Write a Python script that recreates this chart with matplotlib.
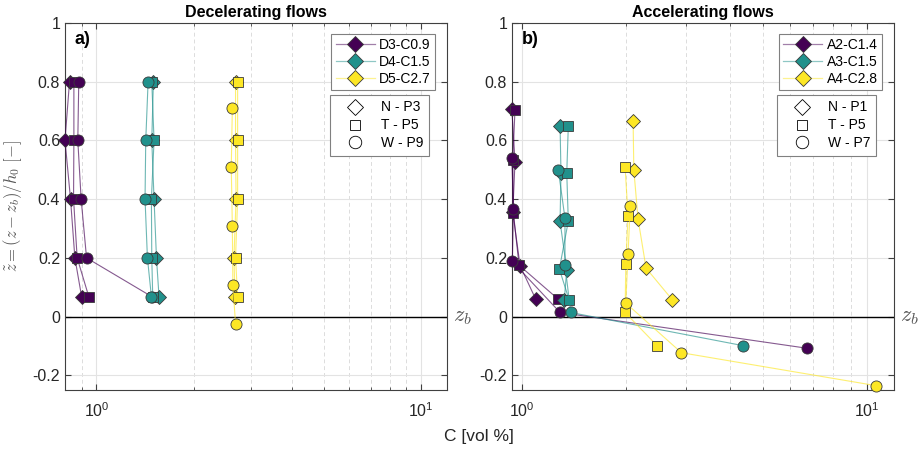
import matplotlib
matplotlib.use('Agg')
import matplotlib.pyplot as plt
from matplotlib.lines import Line2D
from matplotlib.colors import to_rgba

plt.rcParams['font.family'] = ['Liberation Sans', 'DejaVu Sans']
plt.rcParams['mathtext.fontset'] = 'cm'

# colours (viridis ends + middle)
COLORS = ['#440154', '#21918c', '#fde725']

# ---------------- decelerating flows (panel a) ----------------
DEC_NAMES = ['D3-C0.9', 'D4-C1.5', 'D5-C2.7']
DEC_PROFILES = ['N - P3', 'T - P5', 'W - P9']

D3_N_C = [0.826, 0.800, 0.832, 0.858, 0.900]
D3_N_Z = [0.80, 0.60, 0.40, 0.20, 0.068]
D3_T_C = [0.852, 0.852, 0.850, 0.872, 0.947]
D3_T_Z = [0.80, 0.60, 0.40, 0.20, 0.068]
D3_W_C = [0.882, 0.876, 0.897, 0.932, 1.48]
D3_W_Z = [0.80, 0.60, 0.40, 0.20, 0.068]

D4_N_C = [1.497, 1.480, 1.504, 1.530, 1.558]
D4_N_Z = [0.80, 0.60, 0.40, 0.20, 0.068]
D4_T_C = [1.480, 1.504, 1.476, 1.480, 1.490]
D4_T_Z = [0.80, 0.60, 0.40, 0.20, 0.068]
D4_W_C = [1.442, 1.418, 1.411, 1.435, 1.476]
D4_W_Z = [0.80, 0.60, 0.40, 0.20, 0.068]

D5_N_C = [2.68, 2.68, 2.69, 2.65, 2.67]
D5_N_Z = [0.80, 0.60, 0.40, 0.20, 0.068]
D5_T_C = [2.72, 2.72, 2.72, 2.68, 2.72]
D5_T_Z = [0.80, 0.60, 0.40, 0.20, 0.068]
D5_W_C = [2.62, 2.60, 2.62, 2.63, 2.68]
D5_W_Z = [0.711, 0.509, 0.307, 0.108, -0.025]

# ---------------- accelerating flows (panel b) ----------------
ACC_NAMES = ['A2-C1.4', 'A3-C1.5', 'A4-C2.8']
ACC_PROFILES = ['N - P1', 'T - P5', 'W - P7']

A2_N_C = [0.934, 0.954, 0.940, 0.987, 1.096]
A2_N_Z = [0.707, 0.528, 0.355, 0.173, 0.059]
A2_T_C = [0.954, 0.940, 0.944, 0.980, 1.274]
A2_T_Z = [0.705, 0.535, 0.352, 0.175, 0.059]
A2_W_C = [0.934, 0.944, 0.937, 1.289, 6.73]
A2_W_Z = [0.540, 0.366, 0.188, 0.014, -0.108]

A3_N_C = [1.289, 1.297, 1.289, 1.348, 1.326]
A3_N_Z = [0.650, 0.489, 0.324, 0.159, 0.057]
A3_T_C = [1.362, 1.348, 1.362, 1.283, 1.371]
A3_T_Z = [0.648, 0.489, 0.325, 0.162, 0.055]
A3_W_C = [1.274, 1.332, 1.332, 1.384, 4.38]
A3_W_Z = [0.500, 0.335, 0.176, 0.014, -0.099]

A4_N_C = [2.10, 2.11, 2.17, 2.29, 2.73]
A4_N_Z = [0.665, 0.500, 0.333, 0.165, 0.057]
A4_T_C = [1.99, 2.03, 2.00, 1.99, 2.47]
A4_T_Z = [0.511, 0.344, 0.179, 0.014, -0.100]
A4_W_C = [2.06, 2.03, 2.00, 2.90, 10.62]
A4_W_Z = [0.377, 0.213, 0.046, -0.123, -0.235]

DEC_DATA = [
    [(D3_N_C, D3_N_Z), (D3_T_C, D3_T_Z), (D3_W_C, D3_W_Z)],
    [(D4_N_C, D4_N_Z), (D4_T_C, D4_T_Z), (D4_W_C, D4_W_Z)],
    [(D5_N_C, D5_N_Z), (D5_T_C, D5_T_Z), (D5_W_C, D5_W_Z)],
]
ACC_DATA = [
    [(A2_N_C, A2_N_Z), (A2_T_C, A2_T_Z), (A2_W_C, A2_W_Z)],
    [(A3_N_C, A3_N_Z), (A3_T_C, A3_T_Z), (A3_W_C, A3_W_Z)],
    [(A4_N_C, A4_N_Z), (A4_T_C, A4_T_Z), (A4_W_C, A4_W_Z)],
]

MARKERS = ['D', 's', 'o']
MSIZES = [7.5, 6.5, 8]
TXT = '#262626'
LINE_ALPHA = 0.65


def draw_panel(ax, data, names, profiles, xlim, title, tag):
    for color, series in zip(COLORS, data):
        for m, ms, (c, z) in zip(MARKERS, MSIZES, series):
            ax.plot(c, z, '-', color=to_rgba(color, LINE_ALPHA), lw=0.8, marker=m, ms=ms,
                    mfc=color, mec='#3a3a3a', mew=0.6, clip_on=False, zorder=3)

    ax.axhline(0, color='k', lw=1.0, zorder=2)
    ax.set_xscale('log')
    ax.set_xlim(*xlim)
    ax.set_ylim(-0.25, 1)
    ax.set_yticks([-0.2, 0, 0.2, 0.4, 0.6, 0.8, 1])
    ax.set_yticklabels(['-0.2', '0', '0.2', '0.4', '0.6', '0.8', '1'])
    ax.grid(True, which='major', color='#e3e3e3', lw=0.8, zorder=0)
    ax.grid(True, which='minor', axis='x', color='#dcdcdc', lw=0.7, ls=(0, (4, 3)), zorder=0)
    ax.set_axisbelow(True)
    ax.tick_params(which='both', direction='in', top=True, right=True,
                   colors='#404040', labelcolor=TXT, labelsize=11.5)
    ax.tick_params(which='major', length=4)
    ax.tick_params(which='minor', length=2)
    ax.tick_params(axis='x', pad=8)
    for s in ax.spines.values():
        s.set_color('#404040')
        s.set_linewidth(0.8)

    ax.set_title(title, fontsize=11.5, fontweight='bold', color='k', pad=4)
    ax.text(0.025, 0.954, tag, transform=ax.transAxes, fontsize=13,
            fontweight='bold', va='center', ha='left')
    ax.text(1.015, 0.0, r'$z_b$', transform=ax.get_yaxis_transform(),
            fontsize=16, color='#555555', va='center', ha='left')

    # legend for the runs (coloured diamonds with line)
    h1 = [Line2D([], [], color=to_rgba(col, 0.5), lw=0.9, marker='D', ms=8.5, mfc=col,
                 mec='#3a3a3a', mew=0.6) for col in COLORS]
    leg1 = ax.legend(h1, names, loc='upper right', bbox_to_anchor=(0.969, 0.97),
                     borderaxespad=0, fontsize=10, fancybox=False,
                     edgecolor='#808080', framealpha=1, handlelength=2.8,
                     labelspacing=0.22, handletextpad=0.34, borderpad=0.3)
    leg1.get_frame().set_linewidth(0.8)
    ax.add_artist(leg1)

    # legend for the profiles (open markers)
    h2 = [Line2D([], [], ls='none', marker=m, ms=ms, mfc='white', mec='k', mew=0.6)
          for m, ms in zip(MARKERS, [8.5, 7, 9])]
    leg2 = ax.legend(h2, profiles, loc='upper right', bbox_to_anchor=(0.953, 0.804),
                     borderaxespad=0, fontsize=10, fancybox=False,
                     edgecolor='#808080', framealpha=1, handlelength=2.9,
                     labelspacing=0.28, handletextpad=0.4, borderpad=0.4)
    leg2.get_frame().set_linewidth(0.8)


fig = plt.figure(figsize=(9.19, 4.49), dpi=100)
ax1 = fig.add_axes([65 / 919, 59 / 449, 382 / 919, 367 / 449])
ax2 = fig.add_axes([512 / 919, 59 / 449, 382 / 919, 367 / 449])

draw_panel(ax1, DEC_DATA, DEC_NAMES, DEC_PROFILES, (0.8, 12), 'Decelerating flows', 'a)')
draw_panel(ax2, ACC_DATA, ACC_NAMES, ACC_PROFILES, (0.935, 12), 'Accelerating flows', 'b)')

ax1.set_ylabel(r'$\tilde{z} = (z - z_b)/h_0\ [-]$', fontsize=12, color='#555555', labelpad=6)
fig.text(479 / 919, 1 - 437 / 449, 'C [vol %]', ha='center', va='center',
         fontsize=12.5, color=TXT)

fig.savefig('out.png', dpi=100)
